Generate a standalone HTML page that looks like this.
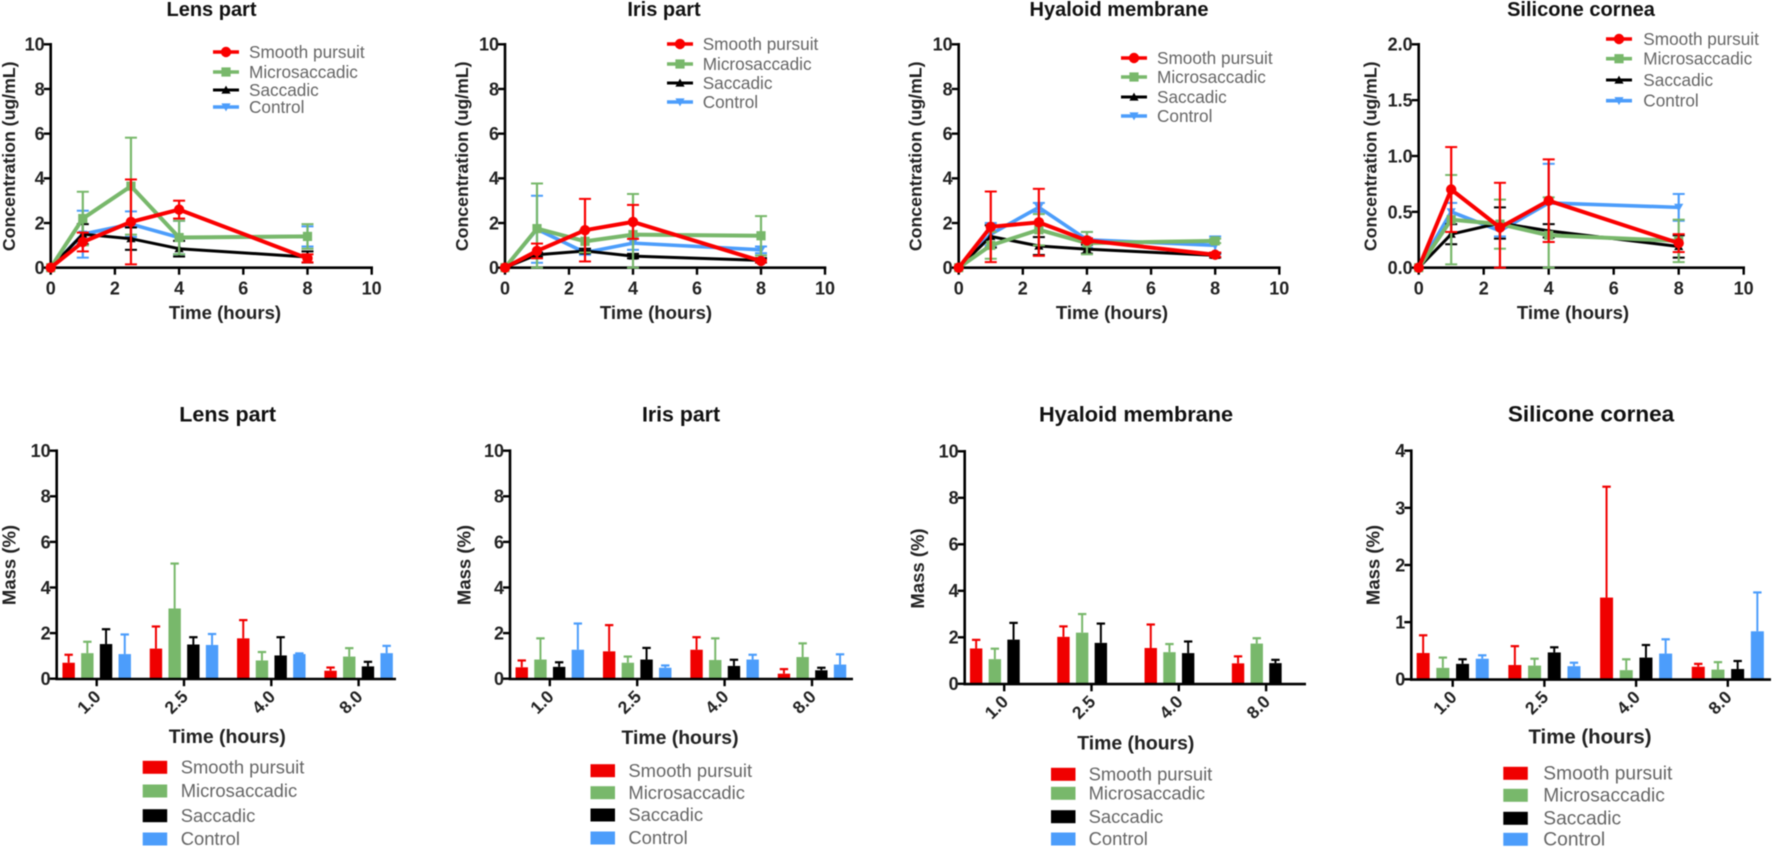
<!DOCTYPE html>
<html lang="en">
<head>
<meta charset="utf-8">
<title>Concentration and mass charts</title>
<style>
html,body{margin:0;padding:0;background:#fff;width:1772px;height:848px;overflow:hidden}
svg{display:block;filter:blur(.6px)}
text{font-family:"Liberation Sans",Arial,sans-serif}
</style>
</head>
<body>
<svg id="fig" xmlns="http://www.w3.org/2000/svg" width="1772" height="848" viewBox="0 0 1772 848"></svg>
<script>
// ---------- shared data ----------
const seriesNames = ["Smooth pursuit", "Microsaccadic", "Saccadic", "Control"];
const lineTimes = [0, 1, 2.5, 4, 8];
const barCategories = ["1.0", "2.5", "4.0", "8.0"];
const xTickLabels = ["0", "2", "4", "6", "8", "10"];
const yTickLabels10 = ["0", "2", "4", "6", "8", "10"];
const yTickLabels2 = ["0.0", "0.5", "1.0", "1.5", "2.0"];
const yTickLabels4 = ["0", "1", "2", "3", "4"];

// ---------- concentration: lens ----------
const lensSmooth = [0, 1.15, 2.05, 2.6, 0.42];
const lensSmoothErr = [0, 0.42, 1.9, 0.4, 0.18];
const lensMicro = [0, 2.2, 3.65, 1.35, 1.4];
const lensMicroErr = [0, 1.2, 2.17, 0.75, 0.55];
const lensSaccadic = [0, 1.5, 1.3, 0.85, 0.48];
const lensSaccadicErr = [0, 0.45, 0.5, 0.35, 0.25];
const lensControl = [0, 1.5, 1.95, 1.35, 1.4];
const lensControlErr = [0, 1.05, 0.57, 0.75, 0.45];

// ---------- concentration: iris ----------
const irisSmooth = [0, 0.75, 1.68, 2.05, 0.3];
const irisSmoothErr = [0, 0.33, 1.4, 0.76, 0.05];
const irisMicro = [0, 1.75, 1.18, 1.48, 1.43];
const irisMicroErr = [0, 2.02, 0.5, 1.82, 0.88];
const irisSaccadic = [0, 0.58, 0.75, 0.52, 0.33];
const irisSaccadicErr = [0, 0.1, 0.1, 0.1, 0.1];
const irisControl = [0, 1.72, 0.68, 1.1, 0.8];
const irisControlErr = [0, 1.5, 0.1, 0.3, 0.15];

// ---------- concentration: hyaloid ----------
const hyaloidSmooth = [0, 1.83, 2.03, 1.22, 0.58];
const hyaloidSmoothErr = [0, 1.58, 1.5, 0.1, 0.1];
const hyaloidMicro = [0, 1.0, 1.7, 1.1, 1.2];
const hyaloidMicroErr = [0, 0.6, 0.7, 0.5, 0.1];
const hyaloidSaccadic = [0, 1.4, 0.97, 0.83, 0.55];
const hyaloidSaccadicErr = [0, 0.5, 0.4, 0.2, 0.1];
const hyaloidControl = [0, 1.5, 2.7, 1.25, 1.0];
const hyaloidControlErr = [0, 0.5, 0.2, 0.35, 0.4];

// ---------- concentration: silicone ----------
const siliconeSmooth = [0, 0.7, 0.36, 0.6, 0.22];
const siliconeSmoothErr = [0, 0.38, 0.4, 0.37, 0.08];
const siliconeMicro = [0, 0.43, 0.39, 0.29, 0.24];
const siliconeMicroErr = [0, 0.4, 0.22, 0.34, 0.19];
const siliconeSaccadic = [0, 0.3, 0.4, 0.33, 0.19];
const siliconeSaccadicErr = [0, 0.09, 0.14, 0.06, 0.1];
const siliconeControl = [0, 0.5, 0.33, 0.58, 0.54];
const siliconeControlErr = [0, 0.08, 0.05, 0.35, 0.12];

// ---------- mass: lens ----------
const massLensSmooth = [0.7, 1.32, 1.77, 0.35];
const massLensSmoothErr = [0.35, 0.97, 0.8, 0.14];
const massLensMicro = [1.12, 3.08, 0.8, 0.97];
const massLensMicroErr = [0.5, 1.97, 0.37, 0.37];
const massLensSaccadic = [1.52, 1.5, 1.02, 0.54];
const massLensSaccadicErr = [0.65, 0.32, 0.8, 0.2];
const massLensControl = [1.08, 1.48, 1.08, 1.12];
const massLensControlErr = [0.86, 0.48, 0.03, 0.32];

// ---------- mass: iris ----------
const massIrisSmooth = [0.5, 1.2, 1.27, 0.22];
const massIrisSmoothErr = [0.3, 1.15, 0.55, 0.2];
const massIrisMicro = [0.84, 0.7, 0.82, 0.95];
const massIrisMicroErr = [0.93, 0.27, 0.95, 0.6];
const massIrisSaccadic = [0.52, 0.84, 0.56, 0.37];
const massIrisSaccadicErr = [0.2, 0.51, 0.27, 0.11];
const massIrisControl = [1.27, 0.48, 0.84, 0.62];
const massIrisControlErr = [1.15, 0.1, 0.21, 0.45];

// ---------- mass: hyaloid ----------
const massHyaloidSmooth = [1.52, 2.02, 1.54, 0.88];
const massHyaloidSmoothErr = [0.37, 0.45, 1.01, 0.3];
const massHyaloidMicro = [1.06, 2.2, 1.36, 1.73];
const massHyaloidMicroErr = [0.45, 0.8, 0.35, 0.23];
const massHyaloidSaccadic = [1.9, 1.76, 1.32, 0.89];
const massHyaloidSaccadicErr = [0.72, 0.83, 0.5, 0.14];
const massHyaloidControl = [0, 0, 0, 0];
const massHyaloidControlErr = [0, 0, 0, 0];

// ---------- mass: silicone ----------
const massSiliconeSmooth = [0.46, 0.25, 1.43, 0.22];
const massSiliconeSmoothErr = [0.31, 0.33, 1.94, 0.05];
const massSiliconeMicro = [0.2, 0.24, 0.16, 0.17];
const massSiliconeMicroErr = [0.18, 0.12, 0.19, 0.13];
const massSiliconeSaccadic = [0.27, 0.47, 0.38, 0.18];
const massSiliconeSaccadicErr = [0.08, 0.09, 0.22, 0.14];
const massSiliconeControl = [0.36, 0.23, 0.45, 0.84];
const massSiliconeControlErr = [0.06, 0.06, 0.25, 0.68];

// ---------- styling ----------
const seriesColors = ["#fa0000", "#78b86b", "#000000", "#4c9dfb"];
const barColors = ["#f00000", "#78b86b", "#000000", "#4c9dfb"];
const lineWidths = [4, 4, 3, 3.6];
const markerKinds = ["circle", "square", "up", "down"];
const drawOrder = [3, 2, 1, 0];

const linePanels = [
  {key:"lens-concentration", title:"Lens part", titleX:211.5, x0:50.7, x10:371.7, y0:267.7, yTop:44.3, yMax:10, yLabels:yTickLabels10, yLabelX:15, timeX:225,
   legendLineX:213, legendTextX:249, legendYs:[52,72,90,107],
   values:[lensSmooth,lensMicro,lensSaccadic,lensControl], errors:[lensSmoothErr,lensMicroErr,lensSaccadicErr,lensControlErr]},
  {key:"iris-concentration", title:"Iris part", titleX:664, x0:505, x10:825, y0:267.7, yTop:44.3, yMax:10, yLabels:yTickLabels10, yLabelX:468, timeX:656,
   legendLineX:667, legendTextX:702.7, legendYs:[44,64,83,102],
   values:[irisSmooth,irisMicro,irisSaccadic,irisControl], errors:[irisSmoothErr,irisMicroErr,irisSaccadicErr,irisControlErr]},
  {key:"hyaloid-concentration", title:"Hyaloid membrane", titleX:1119, x0:958.7, x10:1279.3, y0:267.7, yTop:44.3, yMax:10, yLabels:yTickLabels10, yLabelX:921.7, timeX:1112,
   legendLineX:1121, legendTextX:1157, legendYs:[58,77,97,116],
   values:[hyaloidSmooth,hyaloidMicro,hyaloidSaccadic,hyaloidControl], errors:[hyaloidSmoothErr,hyaloidMicroErr,hyaloidSaccadicErr,hyaloidControlErr]},
  {key:"silicone-concentration", title:"Silicone cornea", titleX:1581, x0:1418.7, x10:1743.7, y0:267.7, yTop:44.3, yMax:2, yLabels:yTickLabels2, yLabelX:1376.7, timeX:1573,
   legendLineX:1606, legendTextX:1643.3, legendYs:[39,58.7,80,100.7],
   values:[siliconeSmooth,siliconeMicro,siliconeSaccadic,siliconeControl], errors:[siliconeSmoothErr,siliconeMicroErr,siliconeSaccadicErr,siliconeControlErr]}
];

const barPanels = [
  {key:"lens-mass", title:"Lens part", titleX:227.7, titleSize:21.5, axisX:56.7, axisEnd:396, firstTick:96.7, tickStep:87.3, barStep:18.7, barWidth:12.4, y0:678.7, yTop:450.7, yMax:10, yLabels:yTickLabels10, yLabelX:15.7, yLabelY:565,
   timeX:227.3, timeY:743, timeSize:19.4, swatchX:142.7, textX:180.7, legendSize:18.4, legendYs:[767.3,791,815.7,839],
   values:[massLensSmooth,massLensMicro,massLensSaccadic,massLensControl], errors:[massLensSmoothErr,massLensMicroErr,massLensSaccadicErr,massLensControlErr]},
  {key:"iris-mass", title:"Iris part", titleX:681, titleSize:21.3, axisX:510, axisEnd:853, firstTick:549.8, tickStep:87.4, barStep:18.7, barWidth:12.4, y0:678.7, yTop:450.7, yMax:10, yLabels:yTickLabels10, yLabelX:470.7, yLabelY:565,
   timeX:680, timeY:744, timeSize:19.4, swatchX:590.5, textX:628.4, legendSize:18.4, legendYs:[770.7,792.7,815,838],
   values:[massIrisSmooth,massIrisMicro,massIrisSaccadic,massIrisControl], errors:[massIrisSmoothErr,massIrisMicroErr,massIrisSaccadicErr,massIrisControlErr]},
  {key:"hyaloid-mass", title:"Hyaloid membrane", titleX:1136, titleSize:21.7, axisX:964.7, axisEnd:1306, firstTick:1004.2, tickStep:87.3, barStep:18.7, barWidth:12.4, y0:683.8, yTop:451.3, yMax:10, yLabels:yTickLabels10, yLabelX:924, yLabelY:568.5,
   timeX:1135.8, timeY:749.5, timeSize:19.4, swatchX:1051, textX:1088.6, legendSize:18.4, legendYs:[774.3,793.3,816.7,839],
   values:[massHyaloidSmooth,massHyaloidMicro,massHyaloidSaccadic,massHyaloidControl], errors:[massHyaloidSmoothErr,massHyaloidMicroErr,massHyaloidSaccadicErr,massHyaloidControlErr]},
  {key:"silicone-mass", title:"Silicone cornea", titleX:1591, titleSize:22.5, axisX:1411.3, axisEnd:1771, firstTick:1452.7, tickStep:91.7, barStep:19.7, barWidth:13, y0:679.3, yTop:450.7, yMax:4, yLabels:yTickLabels4, yLabelX:1379.3, yLabelY:565,
   timeX:1590, timeY:743.5, timeSize:20.4, swatchX:1503.3, textX:1543.3, legendSize:19.2, legendYs:[773.3,795.3,818.3,839.3],
   values:[massSiliconeSmooth,massSiliconeMicro,massSiliconeSaccadic,massSiliconeControl], errors:[massSiliconeSmoothErr,massSiliconeMicroErr,massSiliconeSaccadicErr,massSiliconeControlErr]}
];

// ---------- drawing ----------
const NS = "http://www.w3.org/2000/svg";
const fig = document.getElementById("fig");

function add(parent, tag, attrs, name, text) {
  const el = document.createElementNS(NS, tag);
  for (const k in attrs) el.setAttribute(k, attrs[k]);
  
  
  if (text !== undefined) el.textContent = text;
  parent.appendChild(el);
  return el;
}
function slug(s) { return s.toLowerCase().replace(/[^a-z0-9]+/g, "-"); }
function ln(parent, x1, y1, x2, y2, color, w, name) {
  return add(parent, "line", {x1:x1, y1:y1, x2:x2, y2:y2, stroke:color, "stroke-width":w}, name);
}
function marker(parent, kind, x, y, color, name) {
  if (kind === "circle") return add(parent, "circle", {cx:x, cy:y, r:5.2, fill:color}, name);
  if (kind === "square") return add(parent, "rect", {x:x-4.6, y:y-4.6, width:9.2, height:9.2, fill:color}, name);
  const d = kind === "up" ? 1 : -1;
  return add(parent, "polygon", {points:(x-4.6)+","+(y+3.6*d)+" "+(x+4.6)+","+(y+3.6*d)+" "+x+","+(y-4.4*d), fill:color}, name);
}
function yAxisLeft(g, p, axisX, scaleY, count) {
  ln(g, axisX, p.yTop-1.3, axisX, p.y0+1.3, "#000", 2.6, "y-axis-line");
  p.yLabels.forEach((lab, i) => {
    const y = scaleY(p.yMax * i / (count - 1));
    ln(g, axisX-7, y, axisX, y, "#000", 2.4, "y-tick");
    add(g, "text", {x:axisX-6, y:y+6.4, "text-anchor":"end", "font-size":18, "font-weight":"bold", fill:"#222"}, "y-tick-label", lab);
  });
}

linePanels.forEach(p => {
  const g = add(fig, "g", {}, p.key + "-chart");
  const scaleX = t => p.x0 + (p.x10 - p.x0) * t / 10;
  const scaleY = v => p.y0 - (p.y0 - p.yTop) * v / p.yMax;

  add(g, "text", {x:p.titleX, y:16, "text-anchor":"middle", "font-size":20, "font-weight":"bold", fill:"#111"}, "chart-title", p.title);
  yAxisLeft(g, p, p.x0, scaleY, p.yLabels.length);
  ln(g, p.x0-1.3, p.y0, p.x10+1.3, p.y0, "#000", 2.6, "x-axis-line");
  xTickLabels.forEach(lab => {
    const x = scaleX(+lab);
    ln(g, x, p.y0, x, p.y0+7, "#000", 2.4, "x-tick");
    add(g, "text", {x:x, y:294.5, "text-anchor":"middle", "font-size":18, "font-weight":"bold", fill:"#222"}, "x-tick-label", lab);
  });
  add(g, "text", {x:p.timeX, y:319, "text-anchor":"middle", "font-size":18.6, "font-weight":"bold", fill:"#222"}, "x-axis-title", "Time (hours)");
  add(g, "text", {transform:"translate("+p.yLabelX+",156.3) rotate(-90)", "text-anchor":"middle", "font-size":17.7, "font-weight":"bold", fill:"#222"}, "y-axis-title", "Concentration (ug/mL)");

  drawOrder.forEach(s => {
    const sg = add(g, "g", {}, "series-" + slug(seriesNames[s]));
    const color = seriesColors[s];
    const vals = p.values[s], errs = p.errors[s];
    lineTimes.forEach((t, i) => {
      if (!errs[i]) return;
      const x = scaleX(t);
      const hi = scaleY(vals[i] + errs[i]);
      const lo = scaleY(Math.max(0, vals[i] - errs[i]));
      ln(sg, x, hi, x, lo, color, 2.2, "error-bar");
      ln(sg, x-6, hi, x+6, hi, color, 2, "error-cap-upper");
      ln(sg, x-6, lo, x+6, lo, color, 2, "error-cap-lower");
    });
    const pts = lineTimes.map((t, i) => scaleX(t) + "," + scaleY(vals[i])).join(" ");
    add(sg, "polyline", {points:pts, fill:"none", stroke:color, "stroke-width":lineWidths[s], "stroke-linejoin":"round"}, "series-line");
    lineTimes.forEach((t, i) => marker(sg, markerKinds[s], scaleX(t), scaleY(vals[i]), color, "data-point"));
  });

  seriesNames.forEach((name, s) => {
    const lg = add(g, "g", {}, "legend-entry-" + slug(name));
    const y = p.legendYs[s];
    ln(lg, p.legendLineX, y, p.legendLineX+26, y, seriesColors[s], s === 2 ? 3 : 3.6, "legend-line");
    marker(lg, markerKinds[s], p.legendLineX+13, y, seriesColors[s], "legend-marker");
    add(lg, "text", {x:p.legendTextX, y:y+6, "font-size":17.2, fill:"#666"}, "legend-label", name);
  });
});

barPanels.forEach(p => {
  const g = add(fig, "g", {}, p.key + "-chart");
  const scaleX = i => p.firstTick + p.tickStep * i;
  const scaleY = v => p.y0 - (p.y0 - p.yTop) * v / p.yMax;

  add(g, "text", {x:p.titleX, y:421.5, "text-anchor":"middle", "font-size":p.titleSize, "font-weight":"bold", fill:"#111"}, "chart-title", p.title);

  seriesNames.forEach((name, s) => {
    const sg = add(g, "g", {}, "series-" + slug(name));
    barCategories.forEach((cat, i) => {
      const cx = scaleX(i) + (s - 1.5) * p.barStep;
      const v = p.values[s][i], e = p.errors[s][i];
      if (v <= 0) return;
      const top = scaleY(v), hi = scaleY(v + e);
      add(sg, "rect", {x:cx-p.barWidth/2, y:top, width:p.barWidth, height:p.y0-top, fill:barColors[s]}, "bar-" + cat);
      ln(sg, cx, top, cx, hi, barColors[s], 2, "error-bar");
      ln(sg, cx-4.2, hi, cx+4.2, hi, barColors[s], 2.2, "error-cap");
    });
  });

  yAxisLeft(g, p, p.axisX, scaleY, p.yLabels.length);
  ln(g, p.axisX-1.3, p.y0+0.3, p.axisEnd, p.y0+0.3, "#000", 2.6, "x-axis-line");
  barCategories.forEach((cat, i) => {
    const x = scaleX(i);
    ln(g, x, p.y0, x, p.y0+7.5, "#000", 2.4, "x-tick");
    add(g, "text", {transform:"translate("+(x+5)+","+(p.y0+19)+") rotate(-45)", "text-anchor":"end", "font-size":17.5, "font-weight":"bold", fill:"#222"}, "x-tick-label", cat);
  });
  add(g, "text", {x:p.timeX, y:p.timeY, "text-anchor":"middle", "font-size":p.timeSize, "font-weight":"bold", fill:"#222"}, "x-axis-title", "Time (hours)");
  add(g, "text", {transform:"translate("+p.yLabelX+","+p.yLabelY+") rotate(-90)", "text-anchor":"middle", "font-size":18.5, "font-weight":"bold", fill:"#222"}, "y-axis-title", "Mass (%)");

  seriesNames.forEach((name, s) => {
    const lg = add(g, "g", {}, "legend-entry-" + slug(name));
    const y = p.legendYs[s];
    add(lg, "rect", {x:p.swatchX, y:y-6.5, width:24.5, height:13, fill:barColors[s]}, "legend-swatch");
    add(lg, "text", {x:p.textX, y:y+6.2, "font-size":p.legendSize, fill:"#666"}, "legend-label", name);
  });
});
</script>
</body>
</html>
